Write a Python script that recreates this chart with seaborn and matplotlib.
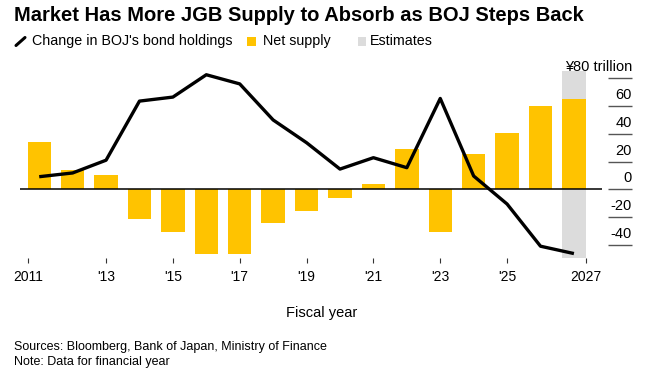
import matplotlib
matplotlib.use("Agg")
import matplotlib.pyplot as plt
from matplotlib.patches import Rectangle
from matplotlib.lines import Line2D
from matplotlib.transforms import ScaledTranslation, blended_transform_factory
import seaborn as sns
import pandas as pd

# ---- data ----
years = list(range(2011, 2028))
net_supply = [34, 14, 10.3, -21.6, -30.5, -46.5, -46.5, -24, -15.4, -6, 4, 29, -31, 25.4, 40.5, 60.2, 65]
boj_change = [9.1, 11.8, 21, 63.6, 66.5, 82.6, 76, 50, 33.6, 14.6, 22.8, 15.6, 65.5, 9.6, -10.6, -41, -46.3]
estimate_years = [2027]
x_tick_labels = ["2011", "'13", "'15", "'17", "'19", "'21", "'23", "'25", "2027"]
y_tick_values = [80, 60, 40, 20, 0, -20, -40]
y_tick_labels = ["¥80 trillion", "60", "40", "20", "0", "-20", "-40"]

title = "Market Has More JGB Supply to Absorb as BOJ Steps Back"
legend_labels = ["Change in BOJ's bond holdings", "Net supply", "Estimates"]
x_label = "Fiscal year"
source_text = "Sources: Bloomberg, Bank of Japan, Ministry of Finance"
note_text = "Note: Data for financial year"

YELLOW = "#FFC300"
GREY = "#DCDCDC"

sns.set_theme(style="white")
plt.rcParams["font.family"] = ["Liberation Sans", "DejaVu Sans"]
plt.rcParams["text.color"] = "black"
plt.rcParams["axes.labelcolor"] = "black"
plt.rcParams["xtick.color"] = "black"
plt.rcParams["ytick.color"] = "black"

W, H = 650, 371
fig = plt.figure(figsize=(6.5, 3.71), dpi=100)
ax = fig.add_axes([20 / W, 1 - 258 / H, 582 / W, 187 / H])

df = pd.DataFrame({"year": years, "net": net_supply, "boj": boj_change})

for ey in estimate_years:
    ax.axvspan(ey - 0.36, ey + 0.36, color=GREY, zorder=0, lw=0)

sns.barplot(data=df, x="year", y="net", native_scale=True, width=0.7,
            color=YELLOW, saturation=1, linewidth=0, ax=ax, zorder=2)
ax.axhline(0, color="black", lw=1.1, zorder=3)
sns.lineplot(data=df, x="year", y="boj", color="black", lw=2.4, ax=ax,
             zorder=4, solid_capstyle="butt")

ax.set_xlim(2010.425, 2027.84)
ax.set_ylim(-49.5, 85.3)
for s in ax.spines.values():
    s.set_visible(False)
ax.set_xlabel("")
ax.set_ylabel("")

xt = [years[0] - 0.33] + [y for y in years if y % 2 == 1 and years[0] < y < years[-1]] + [years[-1] + 0.36]
ax.set_xticks(xt, x_tick_labels)
ax.tick_params(axis="x", bottom=True, length=3.6, width=0.8, color="#333333",
               pad=5, labelsize=10, labelcolor="black")

ax.yaxis.tick_right()
ax.set_yticks(y_tick_values, y_tick_labels)
ax.tick_params(axis="y", right=True, length=0, pad=21.6, labelsize=10.5, labelcolor="black")
off = ScaledTranslation(0, 4 / 100, fig.dpi_scale_trans)
for lbl in ax.get_yticklabels():
    lbl.set_ha("right")
    lbl.set_va("bottom")
    lbl.set_transform(lbl.get_transform() + off)

trans = blended_transform_factory(ax.transAxes, ax.transData)
ax.hlines(y_tick_values, 1 + 6 / 582, 1 + 30 / 582, transform=trans,
          color="#555555", lw=1, clip_on=False)

# title
fig.text(14 / W, 1 - 21 / H, title, fontsize=14.5, weight="bold", va="baseline")

# legend
ly = 1 - 45 / H
fig.add_artist(Line2D([16 / W, 25 / W], [1 - 45.5 / H, 1 - 37.5 / H], color="black", lw=2.2,
                      transform=fig.transFigure))
fig.text(32 / W, ly, legend_labels[0], fontsize=10.3, va="baseline")
fig.add_artist(Rectangle((247 / W, 1 - 45.5 / H), 9 / W, 8 / H, color=YELLOW,
                         transform=fig.transFigure, lw=0))
fig.text(263 / W, ly, legend_labels[1], fontsize=10.3, va="baseline")
fig.add_artist(Rectangle((358 / W, 1 - 45.5 / H), 8 / W, 8 / H, color=GREY,
                         transform=fig.transFigure, lw=0))
fig.text(370 / W, ly, legend_labels[2], fontsize=10.3, va="baseline")

fig.text(322 / W, 1 - 313 / H, x_label, fontsize=10.5, ha="center", va="center")
fig.text(14 / W, 1 - 350 / H, source_text, fontsize=9, va="baseline")
fig.text(14 / W, 1 - 365 / H, note_text, fontsize=9, va="baseline")

fig.savefig("out.png", dpi=100)
